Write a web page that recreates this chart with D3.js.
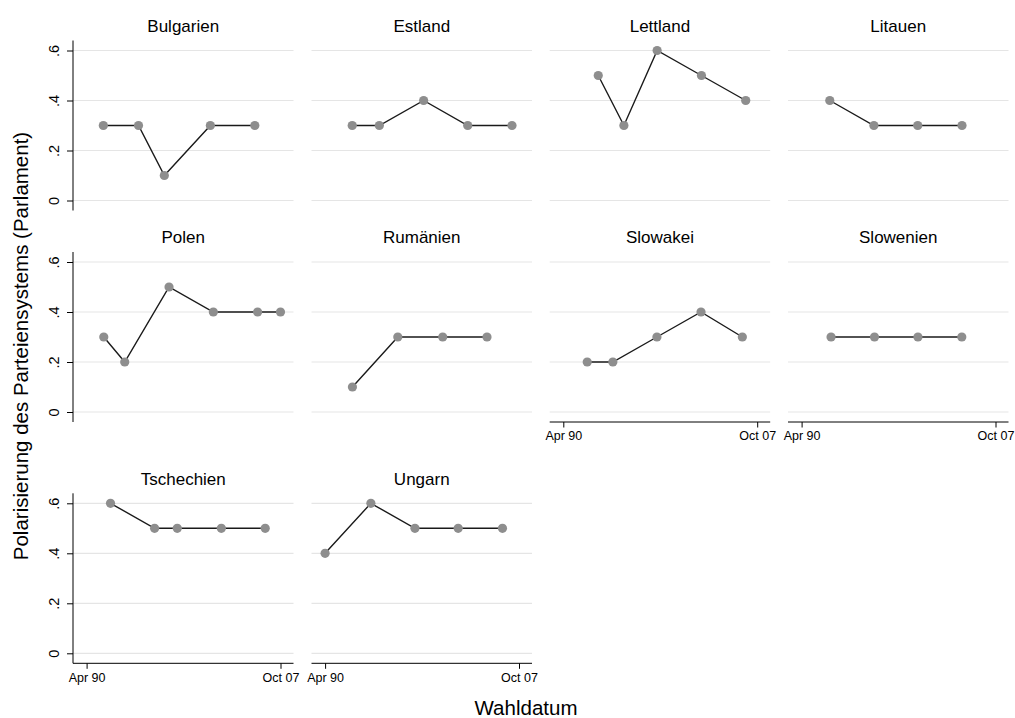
<!DOCTYPE html>
<html>
<head>
<meta charset="utf-8">
<script src="https://cdn.jsdelivr.net/npm/d3@7"></script>
<style>
  html, body { margin: 0; padding: 0; background: #fff; }
  svg { display: block; font-family: "Liberation Sans", Arial, Helvetica, sans-serif; }
</style>
</head>
<body>
<svg id="chart" width="1015" height="718"></svg>
<script>
// ---- data ----
const countries = ["Bulgarien", "Estland", "Lettland", "Litauen",
                   "Polen", "Rumänien", "Slowakei", "Slowenien",
                   "Tschechien", "Ungarn"];

const electionDates = [
  ["1991-10-13", "1994-12-18", "1997-04-19", "2001-06-17", "2005-06-25"],
  ["1992-09-20", "1995-03-05", "1999-03-07", "2003-03-02", "2007-03-04"],
  ["1993-06-06", "1995-10-01", "1998-10-03", "2002-10-05", "2006-10-07"],
  ["1992-10-25", "1996-10-20", "2000-10-08", "2004-10-10"],
  ["1991-10-27", "1993-09-19", "1997-09-21", "2001-09-23", "2005-09-25", "2007-10-21"],
  ["1992-09-27", "1996-11-03", "2000-11-26", "2004-11-28"],
  ["1992-06-06", "1994-10-01", "1998-09-26", "2002-09-21", "2006-06-17"],
  ["1992-12-06", "1996-11-10", "2000-10-15", "2004-10-03"],
  ["1992-06-06", "1996-06-01", "1998-06-20", "2002-06-15", "2006-06-03"],
  ["1990-04-08", "1994-05-29", "1998-05-24", "2002-04-21", "2006-04-23"]
];

const polarization = [
  [0.3, 0.3, 0.1, 0.3, 0.3],
  [0.3, 0.3, 0.4, 0.3, 0.3],
  [0.5, 0.3, 0.6, 0.5, 0.4],
  [0.4, 0.3, 0.3, 0.3],
  [0.3, 0.2, 0.5, 0.4, 0.4, 0.4],
  [0.1, 0.3, 0.3, 0.3],
  [0.2, 0.2, 0.3, 0.4, 0.3],
  [0.3, 0.3, 0.3, 0.3],
  [0.6, 0.5, 0.5, 0.5, 0.5],
  [0.4, 0.6, 0.5, 0.5, 0.5]
];

const xTickDates = ["1990-04-08", "2007-10-21"];
const xTickLabels = ["Apr 90", "Oct 07"];
const yTicks = [0, 0.2, 0.4, 0.6];
const yTickLabels = ["0", ".2", ".4", ".6"];

const yTitle = "Polarisierung des Parteiensystems (Parlament)";
const xTitle = "Wahldatum";

// ---- layout ----
const parse = d3.timeParse("%Y-%m-%d");
const svg = d3.select("#chart");
const ncol = 4;
const colLeft = [73, 311.5, 549.7, 788];
const rowTop = [40.5, 252, 493.3];
const pw = 220.5, ph = 170;

const x = d3.scaleTime()
  .domain(xTickDates.map(parse))
  .range([13.6, 207.5]);
const y = d3.scaleLinear().domain([0, 0.6]).range([160, 10]);

const n = countries.length;
countries.forEach((name, i) => {
  const r = Math.floor(i / ncol), c = i % ncol;
  const g = svg.append("g").attr("transform", `translate(${colLeft[c]},${rowTop[r]})`);

  // gridlines
  g.selectAll("line.grid").data(yTicks).enter().append("line")
    .attr("x1", 0).attr("x2", pw)
    .attr("y1", d => y(d)).attr("y2", d => y(d))
    .attr("stroke", "#e5e5e5").attr("stroke-width", 1.2);

  // title
  g.append("text")
    .attr("x", pw / 2).attr("y", -8.8)
    .attr("text-anchor", "middle")
    .attr("font-size", 17).attr("fill", "#000")
    .text(name);

  // y axis only in first column
  if (c === 0) {
    const ya = g.append("g").call(
      d3.axisLeft(y).tickValues(yTicks).tickSize(6).tickPadding(0)
        .tickFormat((d, k) => yTickLabels[k]));
    ya.select(".domain").attr("d", `M0,0V${ph}`).attr("stroke", "#000");
    ya.selectAll(".tick line").attr("stroke", "#000");
    ya.selectAll(".tick text")
      .attr("font-size", 14.5).attr("font-family", null)
      .attr("fill", "#000")
      .attr("x", null)
      .attr("text-anchor", "middle")
      .attr("transform", "translate(-14.5,0) rotate(-90)")
      .attr("dy", "0");
  }

  // x axis where no panel below
  const hasBelow = (i + ncol) < n;
  if (!hasBelow) {
    const xa = g.append("g").attr("transform", `translate(0,${ph})`).call(
      d3.axisBottom(x).tickValues(xTickDates.map(parse)).tickSize(5.5).tickPadding(4)
        .tickFormat((d, k) => xTickLabels[k]));
    xa.select(".domain").attr("d", `M0,0H${pw}`).attr("stroke", "#000");
    xa.selectAll(".tick line").attr("stroke", "#000");
    xa.selectAll(".tick text").attr("font-size", 12.5).attr("font-family", null).attr("fill", "#000");
  }

  const pts = electionDates[i].map((d, k) => ({ date: parse(d), v: polarization[i][k] }));
  const line = d3.line().x(d => x(d.date)).y(d => y(d.v));
  g.append("path").datum(pts)
    .attr("d", line).attr("fill", "none")
    .attr("stroke", "#1a1a1a").attr("stroke-width", 1.4);
  g.selectAll("circle").data(pts).enter().append("circle")
    .attr("cx", d => x(d.date)).attr("cy", d => y(d.v))
    .attr("r", 4.6).attr("fill", "#8e8e8e");
});

// axis titles
svg.append("text")
  .attr("transform", "translate(27.5,346) rotate(-90)")
  .attr("text-anchor", "middle")
  .attr("font-size", 20.5).attr("fill", "#000")
  .text(yTitle);

svg.append("text")
  .attr("x", 526).attr("y", 715)
  .attr("text-anchor", "middle")
  .attr("font-size", 20.5).attr("fill", "#000")
  .text(xTitle);
</script>
</body>
</html>
